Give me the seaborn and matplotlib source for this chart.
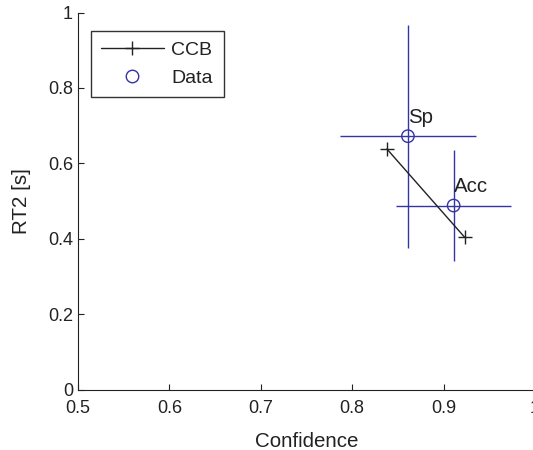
import numpy as np
import pandas as pd
import seaborn as sns
import matplotlib.pyplot as plt
from matplotlib.lines import Line2D

# model prediction (CCB) and observed data, per condition
ccb_conf = [0.838, 0.923]
ccb_rt2 = [0.638, 0.404]
data_conf = [0.861, 0.911]
data_rt2 = [0.672, 0.488]
conf_err = [0.074, 0.063]
rt2_err = [0.296, 0.146]
cond_labels = ['Sp', 'Acc']

xticks = [0.5, 0.6, 0.7, 0.8, 0.9, 1.0]
yticks = [0, 0.2, 0.4, 0.6, 0.8, 1.0]
xtick_labels = ['0.5', '0.6', '0.7', '0.8', '0.9', '1']
ytick_labels = ['0', '0.2', '0.4', '0.6', '0.8', '1']

blue = '#3434a4'
ink = '#222222'

sns.set_style('ticks')
plt.rcParams['font.family'] = ['Liberation Sans', 'DejaVu Sans']

ccb = pd.DataFrame({'conf': ccb_conf, 'rt2': ccb_rt2})
obs = pd.DataFrame({'conf': data_conf, 'rt2': data_rt2, 'cond': cond_labels})

fig = plt.figure(figsize=(5.33, 4.5), dpi=100)
# right edge runs slightly past the canvas, like the cropped original
ax = fig.add_axes([0.1463, 0.1344, 0.8574, 0.8378])

# error bars first so the markers sit on top
ax.errorbar(obs['conf'], obs['rt2'], xerr=conf_err, yerr=rt2_err,
            fmt='none', ecolor=blue, elinewidth=1.0, capsize=0)
sns.lineplot(data=ccb, x='conf', y='rt2', ax=ax, color=ink, linewidth=1.0,
             marker='+', markersize=9.5, markeredgewidth=1.0,
             markeredgecolor=ink, sort=False)
sns.scatterplot(data=obs, x='conf', y='rt2', ax=ax, marker='o', s=80,
                facecolor='none', edgecolor=blue, linewidth=1.0, zorder=5)

for _, r in obs.iterrows():
    ax.text(r['conf'], r['rt2'] + 0.05, r['cond'], fontsize=14.7,
            ha='left', va='center', color=ink)

ax.set_xlim(0.5, 1.0)
ax.set_ylim(0, 1.0)
ax.set_xticks(xticks)
ax.set_xticklabels(xtick_labels)
ax.set_yticks(yticks)
ax.set_yticklabels(ytick_labels)
ax.tick_params(direction='in', length=4, width=0.8, labelsize=13, colors=ink)
ax.tick_params(axis='x', pad=7.5)
ax.set_xlabel('Confidence', fontsize=14.8, color=ink, labelpad=11)
ax.set_ylabel('RT2 [s]', fontsize=14.8, color=ink, labelpad=12.5)
for s in ['top', 'right']:
    ax.spines[s].set_visible(False)
for s in ['left', 'bottom']:
    ax.spines[s].set_color(ink)
    ax.spines[s].set_linewidth(0.8)

handles = [
    Line2D([], [], color=ink, lw=1.0, marker='+', markersize=9.5),
    Line2D([], [], color=blue, lw=0, marker='o', markersize=9,
           markerfacecolor='none'),
]
leg = ax.legend(handles, ['CCB', 'Data'], loc='upper left', bbox_to_anchor=(0.0278, 0.951),
                fontsize=14, frameon=True, fancybox=False, borderaxespad=0,
                handlelength=3.2, handletextpad=0.4, labelspacing=0.5, borderpad=0.55)
leg.get_frame().set_edgecolor('black')
leg.get_frame().set_linewidth(1.0)
for t in leg.get_texts():
    t.set_color(ink)

fig.savefig('out.png', dpi=100)
